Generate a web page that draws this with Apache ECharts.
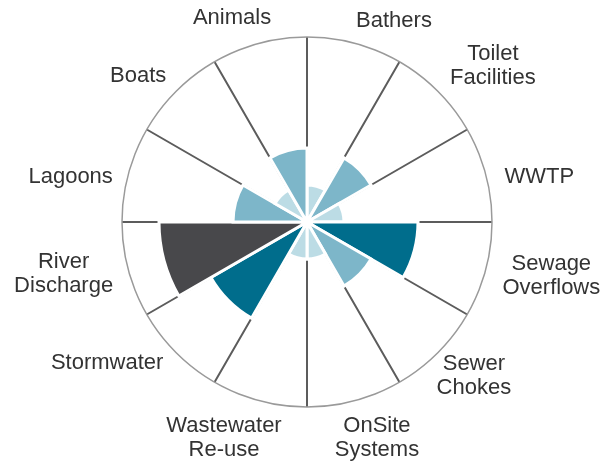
<!DOCTYPE html>
<html>
<head>
<meta charset="utf-8">
<script src="https://cdn.jsdelivr.net/npm/echarts@6/dist/echarts.min.js"></script>
<style>
html,body{margin:0;padding:0;background:#fff;}
#chart{width:603px;height:461px;}
</style>
</head>
<body>
<div id="chart"></div>
<script>
// Categories clockwise from 12 o'clock
const categories = ['Bathers', 'Toilet\nFacilities', 'WWTP', 'Sewage\nOverflows', 'Sewer\nChokes',
  'OnSite\nSystems', 'Wastewater\nRe-use', 'Stormwater', 'River\nDischarge', 'Lagoons', 'Boats', 'Animals'];
// Risk level per source (1..4 on a 0..5 scale)
const values = [1, 2, 1, 3, 2, 1, 1, 3, 4, 2, 1, 2];
// Colour for each level 1..4
const levelColors = ['#bcdce5', '#7db6c9', '#006d8c', '#48484b'];

// Label nudges (style only): padding [top, right, bottom, left] per category label
const labelPadding = [
  [0, 0, 1, 73],   // Bathers
  [12, 0, 0, 38],  // Toilet Facilities
  [10, 0, 0, 34],  // WWTP
  [7, 0, 0, 46],   // Sewage Overflows
  [0, 0, 15, 19],  // Sewer Chokes
  [7, 0, 0, 39],   // OnSite Systems
  [7, 65, 0, 0],   // Wastewater Re-use
  [0, 52, 18, 0],  // Stormwater
  [2, 45, 0, 0],   // River Discharge
  [10, 38, 0, 0],  // Lagoons
  [8, 21, 0, 0],   // Boats
  [0, 49, 7, 0]    // Animals
];

const fontFamily = 'Liberation Sans, Arial, sans-serif';
const rich = {};
labelPadding.forEach((pad, i) => {
  rich['p' + i] = {
    width: 20,
    align: 'center',
    padding: pad,
    fontSize: 22,
    lineHeight: 24,
    color: '#333',
    fontFamily: fontFamily
  };
});

const chart = echarts.init(document.getElementById('chart'));
chart.setOption({
  animation: false,
  polar: { center: [307, 222], radius: 185 },
  angleAxis: {
    type: 'category',
    data: categories,
    startAngle: 90,
    clockwise: true,
    axisLine: { show: true, lineStyle: { color: '#9a9a9a', width: 1.5 } },
    axisTick: { show: false },
    splitLine: { show: true, lineStyle: { color: '#5c5c5c', width: 2 } },
    axisLabel: {
      show: true,
      margin: 10,
      color: '#333',
      fontSize: 22,
      lineHeight: 24,
      fontFamily: fontFamily,
      formatter: (value, index) => value.split('\n').map(s => '{p' + index + '|' + s + '}').join('\n'),
      rich: rich
    }
  },
  radiusAxis: {
    type: 'value',
    min: 0,
    max: 5,
    axisLine: { show: false },
    axisTick: { show: false },
    axisLabel: { show: false },
    splitLine: { show: false }
  },
  series: [{
    type: 'bar',
    coordinateSystem: 'polar',
    data: values,
    barCategoryGap: '0%',
    itemStyle: {
      color: p => levelColors[p.value - 1],
      borderColor: '#fff',
      borderWidth: 3
    }
  }]
});
</script>
</body>
</html>
